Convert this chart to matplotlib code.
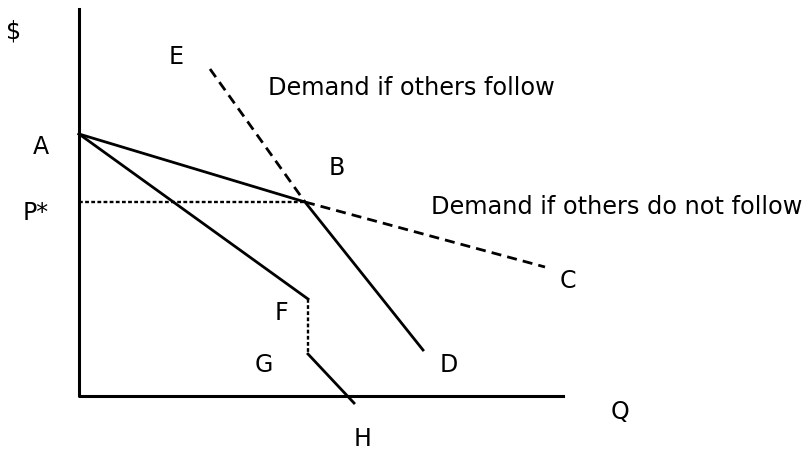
import matplotlib.pyplot as plt

# points in picture coordinates (x right, y down)
axis_x = [79, 79, 563]
axis_y = [10, 397, 397]
follow_x = [210, 305]          # E -> B, dashed
follow_y = [70, 203]
nofollow_x = [305, 545]        # B -> C, dashed
nofollow_y = [203, 268]
kinked_x = [79, 305, 423]      # A -> B -> D
kinked_y = [135, 203, 351]
mr_top_x = [79, 308]           # A -> F
mr_top_y = [135, 300]
gap_x = [308, 308]             # F -> G, dotted
gap_y = [300, 355]
mr_low_x = [308, 354]          # G -> H
mr_low_y = [355, 404]
pstar_x = [79, 305]
pstar_y = [203, 203]

labels = ['$', 'E', 'A', 'B', 'P*', 'C', 'F', 'G', 'D', 'Q', 'H']
label_x = [14, 176, 41, 337, 36, 568, 281, 264, 449, 620, 363]
label_y = [32, 57, 147, 168, 213, 281, 313, 365, 365, 412, 439]
notes = ['Demand if others follow', 'Demand if others do not follow']
note_x = [268, 431]
note_y = [88, 207]


def main():
    plt.rcParams['font.family'] = ['DejaVu Sans']
    fig = plt.figure(figsize=(8.11, 4.52), dpi=100)
    ax = fig.add_axes([0, 0, 1, 1])
    ax.set_xlim(0, 811)
    ax.set_ylim(452, 0)
    ax.axis('off')

    ax.plot(axis_x, axis_y, color='black', lw=2.2)
    ax.plot(kinked_x, kinked_y, color='black', lw=2)
    ax.plot(mr_top_x, mr_top_y, color='black', lw=2)
    ax.plot(mr_low_x, mr_low_y, color='black', lw=2)
    ax.plot(follow_x, follow_y, color='black', lw=2, ls=(0, (3.6, 2.2)))
    ax.plot(nofollow_x, nofollow_y, color='black', lw=2, ls=(0, (3.6, 2.2)))
    ax.plot(pstar_x, pstar_y, color='black', lw=1.7, ls=(0, (1.6, 1)))
    ax.plot(gap_x, gap_y, color='black', lw=1.7, ls=(0, (1.6, 1)))

    for s, x, y in zip(labels, label_x, label_y):
        ax.text(x, y, s, fontsize=17, ha='center', va='center')
    for s, x, y in zip(notes, note_x, note_y):
        ax.text(x, y, s, fontsize=17.3, ha='left', va='center')

    fig.savefig('out.png')


if __name__ == '__main__':
    main()
